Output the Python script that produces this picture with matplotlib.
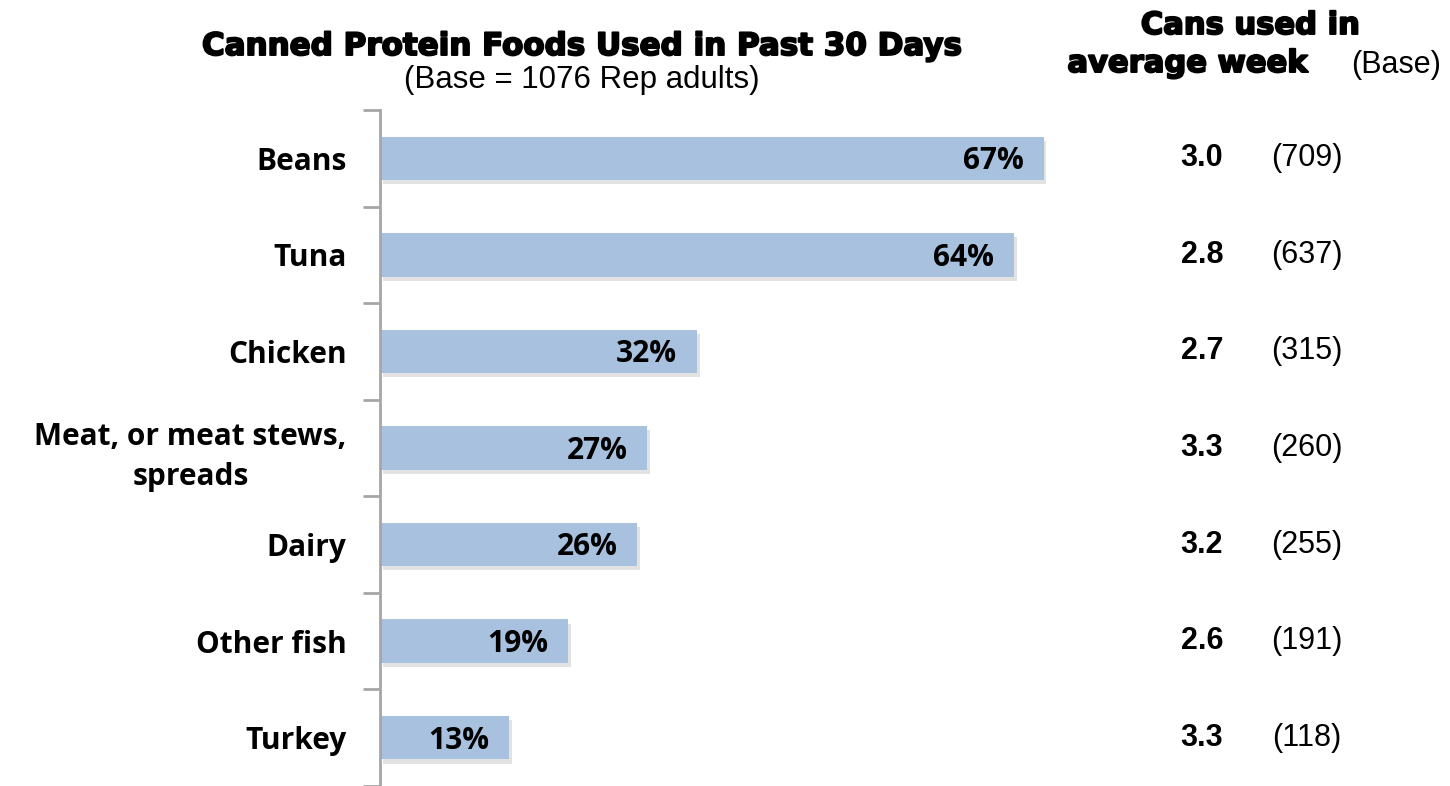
import numpy as np
import matplotlib
matplotlib.use('Agg')
import matplotlib.pyplot as plt
import matplotlib.patheffects as pe
from matplotlib.transforms import blended_transform_factory

# Canned protein foods used in past 30 days
categories = ['Beans', 'Tuna', 'Chicken', 'Meat, or meat stews,\nspreads',
              'Dairy', 'Other fish', 'Turkey']
pct_used = [67, 64, 32, 27, 26, 19, 13]
cans_per_week = [3.0, 2.8, 2.7, 3.3, 3.2, 2.6, 3.3]
base_counts = [709, 637, 315, 260, 255, 191, 118]

bar_color = '#A7C1DF'
spine_color = '#A6A6A6'
label_font = 'Open Sans'

fig = plt.figure(figsize=(14.5, 7.86), dpi=100)
ax = fig.add_axes([380 / 1450, 0.0, 720 / 1450, 1 - 110 / 786])

y = np.arange(len(categories))
bars = ax.barh(y, pct_used, height=0.45, color=bar_color, zorder=2)
for b in bars:
    b.set_path_effects([pe.SimplePatchShadow(offset=(2, -3), shadow_rgbFace='#8C8C8C', alpha=0.25),
                        pe.Normal()])

ax.set_xlim(0, 72.7)
ax.set_ylim(len(categories) - 0.5, -0.5)

# category boundaries carry the ticks, labels sit at the bar centres
ax.set_yticks(y)
ax.set_yticklabels(categories, fontsize=21.5, fontweight='bold', family=label_font,
                   multialignment='center', linespacing=1.45)
ax.tick_params(axis='y', which='major', length=0, pad=24)
ax.set_yticks(np.arange(-0.5, len(categories), 1), minor=True)
ax.tick_params(axis='y', which='minor', length=12, width=2, color=spine_color, direction='out')
ax.set_xticks([])

for s in ['top', 'right', 'bottom']:
    ax.spines[s].set_visible(False)
ax.spines['left'].set_color(spine_color)
ax.spines['left'].set_linewidth(2)

# value labels inside the bar ends
for yi, v in zip(y, pct_used):
    ax.text(v - 2, yi + 0.03, f'{v}%', ha='right', va='center', fontsize=21.5,
            fontweight='bold', family=label_font, zorder=3)

# right-hand columns: cans per week and base
tr = blended_transform_factory(fig.transFigure, ax.transData)
for yi, c, n in zip(y, cans_per_week, base_counts):
    ax.text(1202 / 1450, yi, f'{c:.1f}', transform=tr, ha='center', va='center',
            fontsize=22, fontweight='bold', family='Liberation Sans', clip_on=False)
    ax.text(1307 / 1450, yi, f'({n})', transform=tr, ha='center', va='center',
            fontsize=22, family='Liberation Sans', clip_on=False)

heavy = [pe.withStroke(linewidth=1.4, foreground='black')]
fig.text(583 / 1450, 1 - 55 / 786, 'Canned Protein Foods Used in Past 30 Days',
         ha='center', va='baseline', fontsize=22.3, fontweight='bold',
         family='DejaVu Sans', path_effects=heavy)
fig.text(582 / 1450, 1 - 88 / 786, '(Base = 1076 Rep adults)', ha='center',
         va='baseline', fontsize=22.5, family='Liberation Sans')
fig.text(1250 / 1450, 1 - 34 / 786, 'Cans used in', ha='center', va='baseline',
         fontsize=22, fontweight='bold', family='DejaVu Sans', path_effects=heavy)
fig.text(1187 / 1450, 1 - 72 / 786, 'average week', ha='center', va='baseline',
         fontsize=22, fontweight='bold', family='DejaVu Sans', path_effects=heavy)
fig.text(1396 / 1450, 1 - 73 / 786, '(Base)', ha='center', va='baseline',
         fontsize=22, family='Liberation Sans')

fig.savefig('out.png', dpi=100, facecolor='white')
